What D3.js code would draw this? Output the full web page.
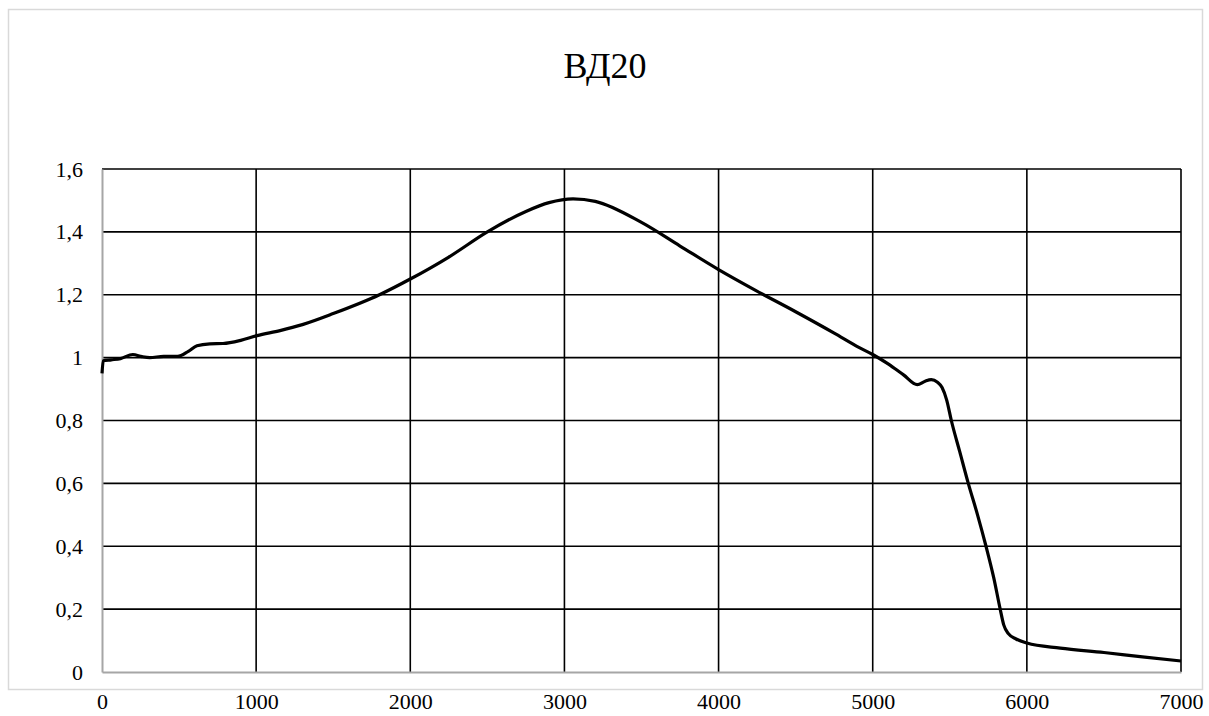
<!DOCTYPE html>
<html>
<head>
<meta charset="utf-8">
<script src="https://cdn.jsdelivr.net/npm/d3@7"></script>
<style>
  body { margin: 0; background: #fff; }
  svg text { font-family: "Liberation Serif", "Times New Roman", serif; fill: #000; }
</style>
</head>
<body>
<div id="chart"></div>
<script>
// series
var xValues = [0, 8, 60, 120, 200, 260, 310, 400, 490, 560, 616, 700, 785, 900, 1006, 1155, 1300, 1500, 1800, 2000, 2250, 2500, 2750, 2900, 3056, 3200, 3500, 3750, 4000, 4240, 4500, 4750, 4913, 5000, 5100, 5200, 5289, 5340, 5380, 5420, 5450, 5480, 5510, 5565, 5620, 5680, 5735, 5785, 5827, 5850, 5880, 5930, 6000, 6217, 6500, 6750, 7000];
var yValues = [0.95, 0.99, 0.993, 0.997, 1.01, 1.003, 1.0, 1.004, 1.004, 1.02, 1.038, 1.044, 1.045, 1.055, 1.07, 1.086, 1.105, 1.14, 1.2, 1.25, 1.32, 1.4, 1.465, 1.493, 1.505, 1.497, 1.43, 1.355, 1.28, 1.214, 1.146, 1.078, 1.032, 1.01, 0.98, 0.945, 0.914, 0.925, 0.93, 0.922, 0.905, 0.865, 0.8, 0.7, 0.6, 0.5, 0.4, 0.3, 0.2, 0.15, 0.122, 0.105, 0.092, 0.076, 0.062, 0.048, 0.035];
var xTicks = [0, 1000, 2000, 3000, 4000, 5000, 6000, 7000];
var yTicks = [0, 0.2, 0.4, 0.6, 0.8, 1, 1.2, 1.4, 1.6];
var chartTitle = "ВД20";

var W = 1209, H = 716;
// plot box
var plot = { left: 102, right: 1181, top: 169, bottom: 672 };

var svg = d3.select("#chart").append("svg")
    .attr("width", W)
    .attr("height", H);

// outer frame
svg.append("rect")
    .attr("x", 8.5).attr("y", 9.5)
    .attr("width", 1194).attr("height", 680)
    .style("fill", "#fff")
    .style("stroke", "#d9d9d9")
    .style("stroke-width", 1.5);

svg.append("text")
    .attr("x", 605).attr("y", 78)
    .attr("text-anchor", "middle")
    .style("font-size", "36px")
    .text(chartTitle);

var x = d3.scaleLinear().domain([0, 7000]).range([plot.left, plot.right]);
var y = d3.scaleLinear().domain([0, 1.6]).range([plot.bottom, plot.top]);

var fmt = function (d) { return String(d).replace(".", ","); };

// horizontal gridlines
svg.append("g")
    .selectAll("line")
    .data(yTicks.filter(function (d) { return d > 0; }))
    .enter().append("line")
    .attr("x1", plot.left).attr("x2", plot.right)
    .attr("y1", function (d) { return y(d); })
    .attr("y2", function (d) { return y(d); })
    .style("stroke", "#000")
    .style("stroke-width", 1.6);

// vertical gridlines
svg.append("g")
    .selectAll("line")
    .data(xTicks.filter(function (d) { return d > 0; }))
    .enter().append("line")
    .attr("x1", function (d) { return x(d); })
    .attr("x2", function (d) { return x(d); })
    .attr("y1", plot.top).attr("y2", plot.bottom)
    .style("stroke", "#000")
    .style("stroke-width", 1.6);

// axes (grey lines, no tick marks)
var yAxis = svg.append("g")
    .attr("transform", "translate(" + plot.left + ",0)")
    .call(d3.axisLeft(y).tickValues(yTicks).tickSize(0).tickPadding(19).tickFormat(fmt));
yAxis.select(".domain").style("stroke", "#a6a6a6").style("stroke-width", 2);
yAxis.selectAll("text").style("font-size", "22px");

var xAxis = svg.append("g")
    .attr("transform", "translate(0," + plot.bottom + ")")
    .call(d3.axisBottom(x).tickValues(xTicks).tickSize(0).tickPadding(21).tickFormat(function (d) { return d; }));
xAxis.select(".domain").style("stroke", "#a6a6a6").style("stroke-width", 2);
xAxis.selectAll("text").style("font-size", "22px");

var data = xValues.map(function (v, i) { return { x: v, y: yValues[i] }; });

var line = d3.line()
    .x(function (d) { return x(d.x); })
    .y(function (d) { return y(d.y); })
    .curve(d3.curveMonotoneX);

svg.append("path")
    .datum(data)
    .attr("d", line)
    .style("fill", "none")
    .style("stroke", "#000")
    .style("stroke-width", 3.2)
    .style("stroke-linejoin", "round");
</script>
</body>
</html>
